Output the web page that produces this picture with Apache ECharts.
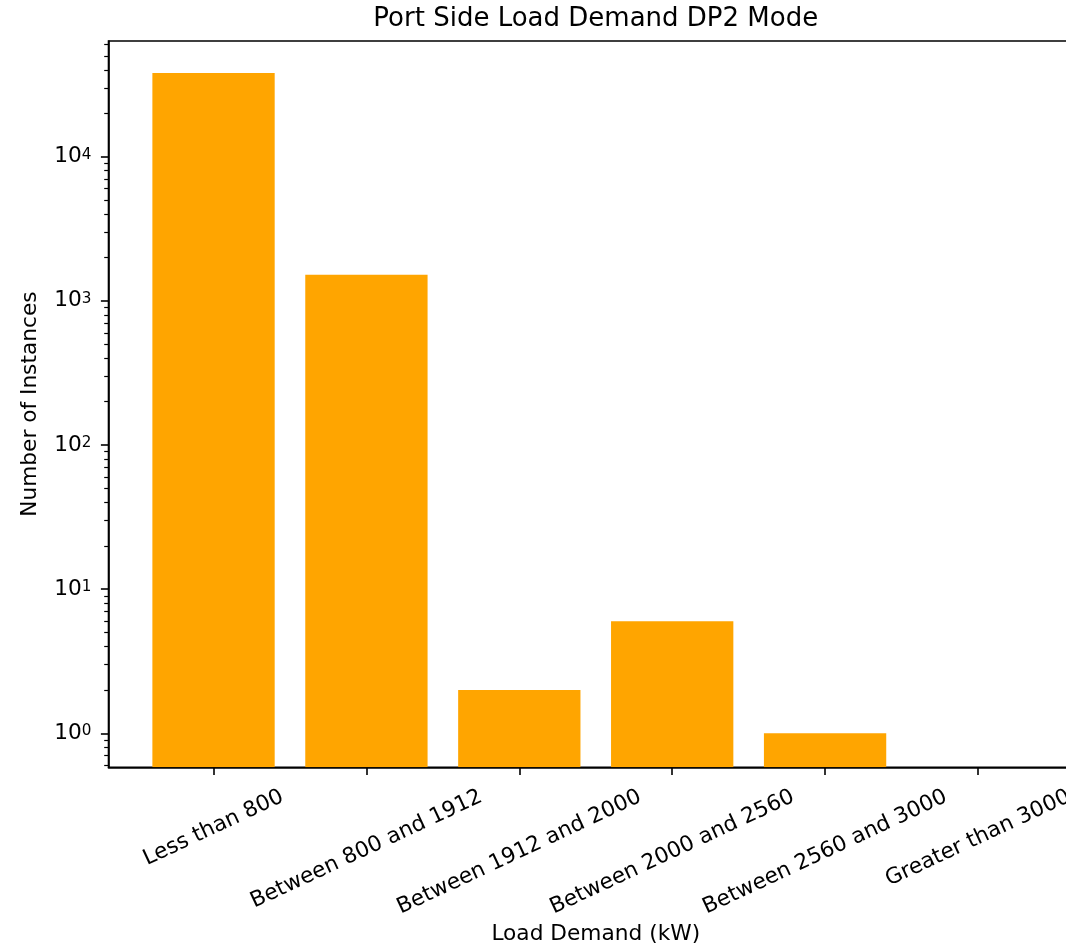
<!DOCTYPE html>
<html>
<head>
<meta charset="utf-8">
<title>Port Side Load Demand DP2 Mode</title>
<script src="https://cdn.jsdelivr.net/npm/echarts@6/dist/echarts.min.js"></script>
<style>
  html, body { margin: 0; padding: 0; background: #ffffff; }
  #chart { width: 1066px; height: 949px; }
</style>
</head>
<body>
<div id="chart"></div>
<script>
// Load-demand bins and how many samples fell into each one
const categories = [
  'Less than 800',
  'Between 800 and 1912',
  'Between 1912 and 2000',
  'Between 2000 and 2560',
  'Between 2560 and 3000',
  'Greater than 3000'
];
const instances = [38100, 1520, 2, 6, 1, 0];

// Tick positions of the logarithmic count axis
const majorTicks = [1, 10, 100, 1000, 10000];
const minorTicks = [];
for (let e = -1; e <= 4; e++) {
  for (let k = 2; k <= 9; k++) minorTicks.push(k * Math.pow(10, e));
}
const categoryTicks = [0, 1, 2, 3, 4, 5];

// Layout and styling
const FONT = '"DejaVu Sans", "Liberation Sans", sans-serif';
const TICK_FONT = 21.7;
const TITLE_FONT = 26;
const BAR_COLOR = '#FFA500';
const BAR_WIDTH = 0.8;
const X_MIN = -0.687, X_MAX = 5.687;
const Y_MIN = 0.581, Y_MAX = 63500;
const GRID = { left: 108.5, right: -17, top: 41, bottom: 181.7 };
const CHART_W = 1066, CHART_H = 949;
const LINE_W = 1.6;

// Rotated category labels: each label's bounding box hangs from a common top line,
// centred under its tick, so every label gets its own offset.
const ROT = 25;
const sinR = Math.sin(ROT * Math.PI / 180), cosR = Math.cos(ROT * Math.PI / 180);
const LABEL_TOP = 786;
const LABEL_H = TICK_FONT;
const LABEL_MARGIN = 8;
const axisY = CHART_H - GRID.bottom;
const measureCtx = document.createElement('canvas').getContext('2d');
measureCtx.font = TICK_FONT + 'px "DejaVu Sans"';
const xRich = {};
categories.forEach(function (name, i) {
  const w = measureCtx.measureText(name).width;
  const d = LABEL_TOP + (w * sinR + LABEL_H * cosR) / 2 - (axisY + LABEL_MARGIN);
  xRich['c' + i] = {
    fontFamily: FONT, fontSize: TICK_FONT, color: '#000',
    padding: [2 * d * cosR, 2 * d * sinR, 0, 0]
  };
});

const plotCenterX = GRID.left + (CHART_W - GRID.left - GRID.right) / 2;

const chart = echarts.init(document.getElementById('chart'), null, { renderer: 'canvas' });

chart.setOption({
  animation: false,
  backgroundColor: '#ffffff',
  title: {
    text: 'Port Side Load Demand DP2 Mode',
    left: plotCenterX,
    top: 6.3,
    textAlign: 'center',
    padding: 0,
    textStyle: { fontFamily: FONT, fontSize: TITLE_FONT, fontWeight: 'normal', color: '#000', lineHeight: TITLE_FONT }
  },
  grid: {
    left: GRID.left, right: GRID.right, top: GRID.top, bottom: GRID.bottom,
    containLabel: false,
    outerBoundsMode: 'none',
    show: true,
    borderColor: '#000',
    borderWidth: LINE_W,
    backgroundColor: 'transparent'
  },
  xAxis: {
    type: 'value',
    min: X_MIN, max: X_MAX,
    position: 'bottom',
    splitLine: { show: false },
    axisLine: { show: true, onZero: false, lineStyle: { color: '#000', width: LINE_W } },
    axisTick: { show: true, customValues: categoryTicks, length: 7.6, lineStyle: { color: '#000', width: LINE_W } },
    axisLabel: {
      customValues: categoryTicks,
      rotate: ROT,
      align: 'center',
      verticalAlign: 'middle',
      margin: LABEL_MARGIN,
      hideOverlap: false,
      formatter: function (v) {
        const i = Math.round(v);
        return '{c' + i + '|' + categories[i] + '}';
      },
      rich: xRich
    },
    name: 'Load Demand (kW)',
    nameLocation: 'middle',
    nameGap: 156.4,
    nameMoveOverlap: false,
    nameTextStyle: { fontFamily: FONT, fontSize: TICK_FONT, color: '#000', lineHeight: TICK_FONT }
  },
  yAxis: [
    {
      type: 'log',
      logBase: 10,
      min: Y_MIN, max: Y_MAX,
      position: 'left',
      splitLine: { show: false },
      minorTick: { show: false },
      axisLine: { show: true, onZero: false, lineStyle: { color: '#000', width: LINE_W } },
      axisTick: { show: true, customValues: majorTicks, length: 7.6, lineStyle: { color: '#000', width: LINE_W } },
      axisLabel: {
        customValues: majorTicks,
        margin: 17,
        formatter: function (v) {
          return '{b|10}{e|' + Math.round(Math.log10(v)) + '}';
        },
        rich: {
          b: { fontFamily: FONT, fontSize: TICK_FONT, color: '#000' },
          e: { fontFamily: FONT, fontSize: 15.2, color: '#000', verticalAlign: 'top', padding: [1.5, 0, 0, 0] }
        }
      },
      name: 'Number of Instances',
      nameLocation: 'middle',
      nameGap: 66.8,
      nameMoveOverlap: false,
      nameTextStyle: { fontFamily: FONT, fontSize: TICK_FONT, color: '#000', lineHeight: TICK_FONT }
    },
    {
      // minor ticks of the log axis
      type: 'log',
      logBase: 10,
      min: Y_MIN, max: Y_MAX,
      position: 'left',
      splitLine: { show: false },
      axisLine: { show: false, onZero: false },
      axisLabel: { show: false },
      axisTick: { show: true, customValues: minorTicks, length: 4.3, lineStyle: { color: '#000', width: 1.2 } }
    }
  ],
  series: [
    {
      type: 'custom',
      name: 'Number of Instances',
      xAxisIndex: 0,
      yAxisIndex: 0,
      clip: true,
      encode: { x: 0, y: 1 },
      data: instances.map(function (v, i) { return [i, v]; }),
      renderItem: function (params, api) {
        const x = api.value(0), y = api.value(1);
        if (!(y > 0)) return null;
        const topLeft = api.coord([x - BAR_WIDTH / 2, y]);
        const bottomRight = api.coord([x + BAR_WIDTH / 2, Y_MIN]);
        return {
          type: 'rect',
          shape: {
            x: topLeft[0], y: topLeft[1],
            width: bottomRight[0] - topLeft[0],
            height: bottomRight[1] - topLeft[1]
          },
          style: { fill: BAR_COLOR }
        };
      }
    }
  ]
});
</script>
</body>
</html>
